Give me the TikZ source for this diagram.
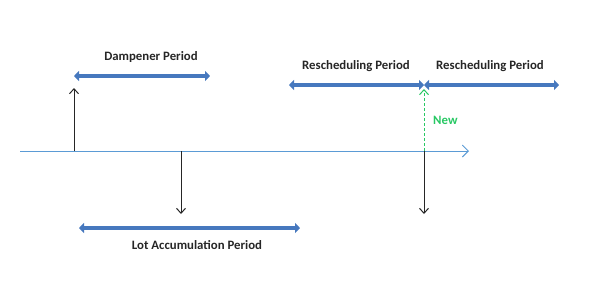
\documentclass[tikz,border=0pt]{standalone}
\usepackage{fontspec}
\setmainfont{Carlito}
\usetikzlibrary{arrows.meta}
\definecolor{axisblue}{RGB}{91,155,213}
\definecolor{barblue}{RGB}{70,120,190}
\definecolor{newgreen}{RGB}{40,200,100}
\tikzset{
  lbl/.style={font=\bfseries\fontsize{12.8}{14}\selectfont, text=black!85, inner sep=1pt},
  period/.style={draw=barblue, line width=4.5pt, {Triangle[width=10pt,length=5pt]}-{Triangle[width=10pt,length=5pt]}},
  event/.style={draw=black!85, line width=1pt, -{Straight Barb[length=5pt,width=9pt]}},
  axis/.style={draw=axisblue, line width=0.9pt, -{Straight Barb[length=6pt,width=12pt]}},
}
\begin{document}
\begin{tikzpicture}[x=1pt,y=-1pt]
\useasboundingbox (0,0) rectangle (595,290);
% axis
\coordinate (a0) at (20,151);
\coordinate (a1) at (469,151);
\draw[axis] (a0) -- (a1);
% event points on axis
\coordinate (e1) at (74,151);
\coordinate (e2) at (181,151);
\coordinate (e3) at (424,151);
\coordinate (e1t) at (74,88);
\coordinate (e2b) at (181,214);
\coordinate (e3b) at (424,214);
\coordinate (e3t) at (424,89);
\draw[event] (e1) -- (e1t);
\draw[event] (e2) -- (e2b);
\draw[event] (e3) -- (e3b);
\draw[draw=newgreen, line width=1pt, dashed, dash pattern=on 3pt off 2pt, -{Straight Barb[length=5pt,width=9pt]}] (e3) -- (e3t);
\node[font=\bfseries\fontsize{12.8}{14}\selectfont, text=newgreen, anchor=west, inner sep=1pt] (new) at (432,120) {New};
% periods
\coordinate (d0) at (74,76);
\coordinate (d1) at (210,76);
\draw[period] (d0) -- (d1);
\node[lbl] (dl) at (151,57) {Dampener Period};
\coordinate (r0) at (289,85);
\coordinate (r1) at (424,85);
\coordinate (r2) at (559,85);
\draw[period] (r0) -- (r1);
\draw[period] (r1) -- (r2);
\node[lbl] (rl1) at (356,66) {Rescheduling Period};
\node[lbl] (rl2) at (490,66) {Rescheduling Period};
\coordinate (l0) at (79,228);
\coordinate (l1) at (300,228);
\draw[period] (l0) -- (l1);
\node[lbl] (ll) at (197,245) {Lot Accumulation Period};
\end{tikzpicture}
\end{document}
